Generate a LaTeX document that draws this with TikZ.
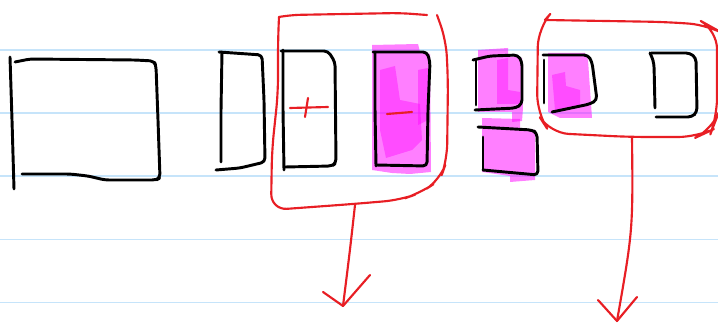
\documentclass[tikz,border=0pt]{standalone}
\begin{document}
\begin{tikzpicture}[x=0.75pt,y=-0.75pt,
  ink/.style={draw=black,line width=2.2pt,line cap=round,line join=round,rounded corners=3pt},
  pen/.style={draw=penred,line width=1.6pt,line cap=round,line join=round},
  hl/.style={fill=hlpink,fill opacity=0.5,draw=none},
  hld/.style={fill=hlpink,fill opacity=0.4,draw=none}]
\definecolor{penred}{RGB}{232,30,36}
\definecolor{rule}{RGB}{198,228,250}
\definecolor{hlpink}{RGB}{255,0,255}
\useasboundingbox (0,0) rectangle (718,324);
\fill[white] (0,0) rectangle (718,324);
% ruled lines
\foreach \yy in {50,113,176,239.5,302.5} \draw[rule,line width=1.4pt] (0,\yy) -- (718,\yy);

% magenta highlights
\fill[hl] (372,45) -- (418,44) -- (420,52) -- (430,54) -- (431,172) -- (410,174) -- (392,173) -- (372,170) -- cycle;
\fill[hld] (380,70) -- (395,66) -- (400,100) -- (420,104) -- (422,140) -- (412,150) -- (386,158) -- (380,130) -- cycle;
\fill[hld] (418,70) -- (428,68) -- (428,120) -- (418,125) -- cycle;
\fill[hl] (478,50) -- (508,48) -- (508,56) -- (522,58) -- (523,108) -- (522,121) -- (512,122) -- (512,112) -- (478,112) -- cycle;
\fill[hld] (497,60) -- (508,58) -- (508,90) -- (520,92) -- (520,104) -- (497,104) -- cycle;
\fill[hl] (482,118) -- (520,119) -- (520,128) -- (535,130) -- (535,180) -- (510,182) -- (510,176) -- (482,172) -- cycle;
\fill[hl] (548,53) -- (585,53) -- (588,60) -- (592,118) -- (560,118) -- (548,112) -- cycle;
\fill[hld] (552,75) -- (565,72) -- (566,86) -- (580,90) -- (580,105) -- (555,110) -- cycle;

% black boxes
\draw[ink] (10,57) -- (12,120) -- (14,189);
\draw[ink] (15,62) -- (30,59) -- (135,60) -- (154,61) -- (156,66) -- (158,120) -- (160,178) -- (156,180) -- (105,180) -- (88,176) -- (70,174) -- (22,174);
\draw[ink] (222,52) -- (221,110) -- (221,162);
\draw[ink] (219,52) -- (262,55) -- (264,100) -- (265,162) -- (240,168) -- (216,170);
\draw[ink] (283,50) -- (283,110) -- (284,170);
\draw[ink] (281,51) -- (328,51) -- (335,62) -- (336,163) -- (332,166) -- (285,167);
\draw[ink] (375,52) -- (375,110) -- (376,166);
\draw[ink] (373,52) -- (427,52) -- (430,62) -- (428,110) -- (427,166) -- (376,165);
\draw[ink] (473,60) -- (490,56) -- (518,55) -- (522,62) -- (522,104) -- (516,108) -- (475,110);
\draw[ink] (476,60) -- (476,105);
\draw[ink] (478,127) -- (532,130) -- (537,133) -- (538,175) -- (483,170);
\draw[ink] (483,137) -- (483,170);
\draw[ink] (544,60) -- (544,103);
\draw[ink] (543,55) -- (588,55) -- (592,62) -- (597,100) -- (590,104) -- (552,112);
\draw[ink] (650,53) -- (652,57) -- (654,64) -- (655,108);
\draw[ink] (651,53) -- (690,53) -- (696,58) -- (697,112) -- (692,117) -- (656,117);

% signs
\draw[pen] (290,108) -- (328,107);
\draw[pen] (308,98) -- (305,117);
\draw[pen] (387,114) -- (412,112);

% red brackets
\draw[pen,rounded corners=8pt] (279,17) -- (290,15) -- (345,14) -- (400,13) -- (427,15);
\draw[pen,rounded corners=12pt] (437,15) -- (446,40) -- (448,80) -- (447,160) -- (440,180) -- (420,193) -- (400,200) -- (353,204) -- (271,210) -- (272,150) -- (278,93) -- (278,40) -- (279,17);
\coordinate (b1) at (355,205);
\coordinate (t1) at (343,306);
\draw[pen] (b1) .. controls (350,250) .. (t1);
\draw[pen] (323,292) -- (t1) -- (370,275);

\draw[pen,rounded corners=14pt] (545,20) -- (667,22) -- (708,25) -- (717,30) -- (717,117) -- (712,130) -- (697,137) -- (630,137) -- (550,133) -- (537,113) -- (538,28) -- (545,20);
\coordinate (b2) at (632,137);
\coordinate (t2) at (617,321);
\draw[pen] (b2) .. controls (633,230) .. (t2);
\draw[pen] (598,300) -- (t2) -- (637,297);
\end{tikzpicture}
\end{document}
